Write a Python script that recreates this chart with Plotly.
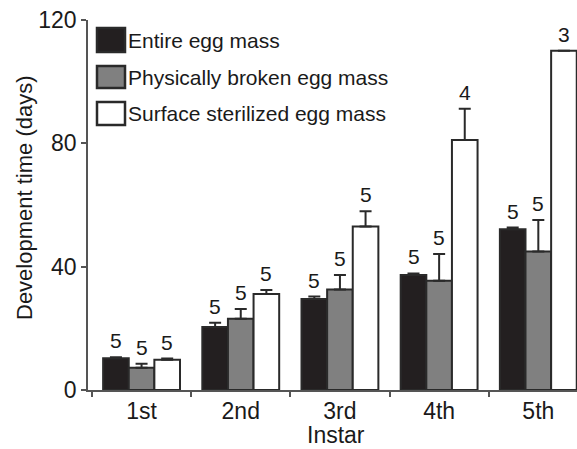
import plotly.graph_objects as go

# Development time per instar for each egg-mass treatment
instars = ["1st", "2nd", "3rd", "4th", "5th"]

entire_mean = [10.3, 20.4, 29.5, 37.3, 52.1]
entire_err = [0.3, 1.4, 0.8, 0.5, 0.6]
entire_n = [5, 5, 5, 5, 5]

broken_mean = [7.2, 23.1, 32.6, 35.4, 44.9]
broken_err = [1.3, 3.2, 4.7, 8.7, 10.2]
broken_n = [5, 5, 5, 5, 5]

sterile_mean = [9.8, 31.1, 53.0, 81.1, 110.0]
sterile_err = [0.4, 1.3, 5.0, 10.1, 0.0]
sterile_n = [5, 5, 5, 4, 3]

series_names = ["Entire egg mass", "Physically broken egg mass", "Surface sterilized egg mass"]
series_fill = ["#231f20", "#808080", "#ffffff"]

y_ticks = [0, 40, 80, 120]

FONT = "Liberation Sans, Arial, Helvetica, sans-serif"
TEXT = "#1a1a1a"
OUTLINE = "#2a2a2a"
AXIS = "#555555"
W, H = 577, 449
M_L, M_R, M_T, M_B = 88, 0, 20, 59
BARGAP = 0.225

series = [
    (entire_mean, entire_err, entire_n),
    (broken_mean, broken_err, broken_n),
    (sterile_mean, sterile_err, sterile_n),
]

fig = go.Figure()
for (mean, err, _), name, fill in zip(series, series_names, series_fill):
    fig.add_trace(go.Bar(
        x=instars,
        y=mean,
        name=name,
        marker=dict(color=fill, line=dict(color=OUTLINE, width=2)),
        error_y=dict(type="data", symmetric=False, array=err,
                     arrayminus=[0] * len(err),
                     color=OUTLINE, thickness=2, width=6),
        showlegend=False,
    ))

# sample-size labels above each bar (or its error bar)
bar_w = (1 - BARGAP) / len(series)
annotations = []
for k, (mean, err, n) in enumerate(series):
    offset = (k - 1) * bar_w
    for i in range(len(instars)):
        annotations.append(dict(
            x=i + offset, y=mean[i] + err[i], xref="x", yref="y",
            text=str(n[i]), showarrow=False, yanchor="bottom",
            yshift=3, font=dict(family=FONT, size=21, color=TEXT),
        ))

# pixel -> paper coordinate helpers for legend and axis titles
plot_w = W - M_L - M_R
plot_h = H - M_T - M_B


def px_x(px):
    return (px - M_L) / plot_w


def px_y(py):
    return (H - M_B - py) / plot_h


# legend drawn as framed swatches with labels
shapes = []
swatch_rows = [(28, 52), (66, 88), (102, 125)]
for (top, bottom), name, fill in zip(swatch_rows, series_names, series_fill):
    shapes.append(dict(
        type="rect", xref="paper", yref="paper",
        x0=px_x(97), x1=px_x(125), y0=px_y(bottom), y1=px_y(top),
        fillcolor=fill, line=dict(color=OUTLINE, width=2.5), layer="above",
    ))
    annotations.append(dict(
        x=px_x(126), y=px_y((top + bottom) / 2 + 0.5), xref="paper", yref="paper",
        text=name, showarrow=False, xanchor="left", yanchor="middle",
        font=dict(family=FONT, size=21, color=TEXT),
    ))

# axis titles
annotations.append(dict(
    x=px_x(24), y=px_y(198), xref="paper", yref="paper",
    text="Development time (days)", textangle=-90, showarrow=False,
    xanchor="center", yanchor="middle",
    font=dict(family=FONT, size=22, color=TEXT),
))
annotations.append(dict(
    x=px_x(336), y=px_y(435), xref="paper", yref="paper",
    text="Instar", showarrow=False, xanchor="center", yanchor="middle",
    font=dict(family=FONT, size=23, color=TEXT),
))

fig.update_layout(
    width=W, height=H,
    margin=dict(l=M_L, r=M_R, t=M_T, b=M_B),
    paper_bgcolor="white", plot_bgcolor="white",
    barmode="group", bargap=BARGAP, bargroupgap=0,
    font=dict(family=FONT, color=TEXT),
    annotations=annotations, shapes=shapes,
    xaxis=dict(
        type="category", range=[-0.54, 4.39],
        showline=True, linecolor=AXIS, linewidth=1.5,
        ticks="outside", tickson="boundaries", ticklen=5,
        tickcolor=AXIS, tickwidth=1.5,
        tickfont=dict(family=FONT, size=23, color=TEXT),
        showgrid=False, zeroline=False,
    ),
    yaxis=dict(
        range=[0, 120], tickvals=y_ticks,
        showline=True, linecolor=AXIS, linewidth=1.5,
        ticks="outside", ticklen=5, tickcolor=AXIS, tickwidth=1.5,
        tickfont=dict(family=FONT, size=23, color=TEXT),
        showgrid=False, zeroline=False,
    ),
)

fig.write_html("out.html")
